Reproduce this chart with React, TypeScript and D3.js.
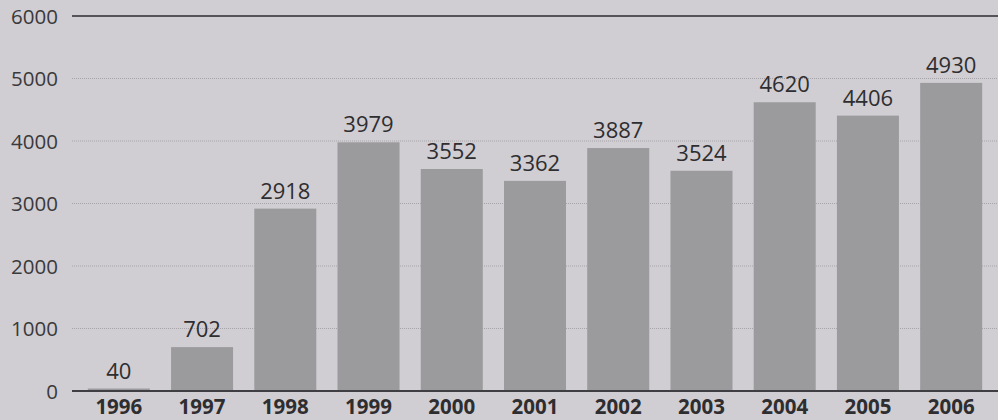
import React from "react";
import * as d3 from "d3";

const years = ["1996","1997","1998","1999","2000","2001","2002","2003","2004","2005","2006"];
const values = [40, 702, 2918, 3979, 3552, 3362, 3887, 3524, 4620, 4406, 4930];
const yTicks = [0, 1000, 2000, 3000, 4000, 5000, 6000];

export default function App() {
  const W = 998, H = 420;
  const x = d3.scaleBand<string>().domain(years).range([77, 993]).paddingInner(0.255).paddingOuter(0.13);
  const y = d3.scaleLinear().domain([0, 6000]).range([391, 16]);
  const font = "'Open Sans', sans-serif";
  return (
    <svg width={W} height={H} style={{ position: "absolute", left: 0, top: 0, background: "#d0ced2" }}>
      <rect x={0} y={0} width={W} height={H} fill="#d0ced2" />
      {yTicks.map(t => (
        <g key={t}>
          {t > 0 && t < 6000 && (
            <line x1={72} x2={W} y1={y(t)} y2={y(t)} stroke="#a6a4a9" strokeWidth={1} strokeDasharray="1 1" />
          )}
          <text x={58} y={y(t) + 7.5} textAnchor="end" fontFamily={font} fontSize={20.5} fill="#3a393c">{t}</text>
        </g>
      ))}
      <line x1={72} x2={W} y1={y(6000)} y2={y(6000)} stroke="#555458" strokeWidth={2} />
      {values.map((v, i) => (
        <g key={years[i]}>
          <rect x={x(years[i])} y={y(v)} width={x.bandwidth()} height={y(0) - y(v)} fill="#9b9a9d" />
          <text x={(x(years[i]) as number) + x.bandwidth() / 2} y={y(v) - 10} textAnchor="middle" fontFamily={font} fontSize={22} fill="#2e2d30">{v}</text>
          <text x={(x(years[i]) as number) + x.bandwidth() / 2} y={414} textAnchor="middle" fontFamily={font} fontWeight="bold" fontSize={20.5} fill="#2e2d30">{years[i]}</text>
        </g>
      ))}
      <line x1={72} x2={W} y1={y(0)} y2={y(0)} stroke="#3f3e42" strokeWidth={2} />
    </svg>
  );
}
